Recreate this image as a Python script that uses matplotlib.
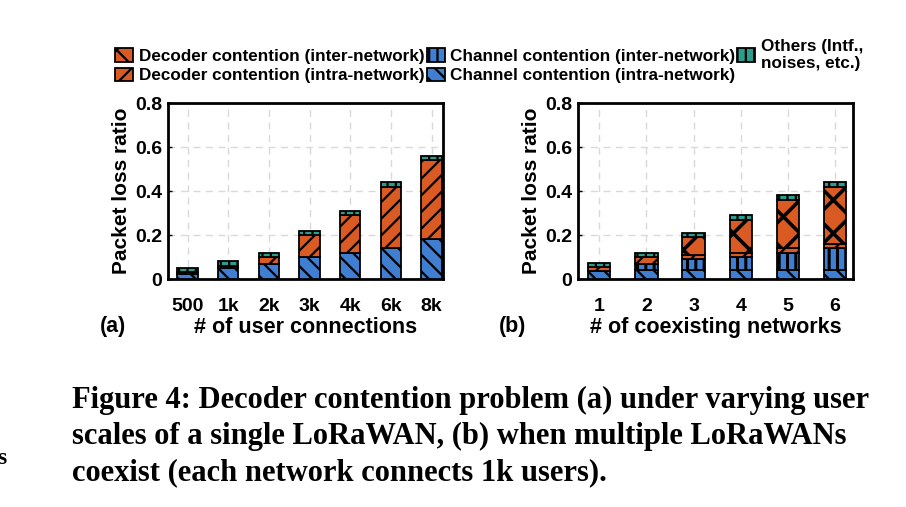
import numpy as np
import matplotlib
matplotlib.use('Agg')
import matplotlib.pyplot as plt
from matplotlib.patches import Patch

plt.rcParams['font.family'] = ['Liberation Sans', 'DejaVu Sans']
plt.rcParams['hatch.linewidth'] = 1.6

# ---- data (a): single LoRaWAN, varying user scale ----
users = ['500', '1k', '2k', '3k', '4k', '6k', '8k']
a_chan_intra = [0.025, 0.05, 0.07, 0.10, 0.12, 0.14, 0.18]
a_dec_intra = [0.005, 0.01, 0.03, 0.10, 0.17, 0.28, 0.36]
a_others = [0.02, 0.02, 0.02, 0.02, 0.02, 0.02, 0.02]

# ---- data (b): multiple coexisting LoRaWANs ----
networks = ['1', '2', '3', '4', '5', '6']
b_chan_intra = [0.035, 0.04, 0.04, 0.04, 0.04, 0.04]
b_chan_inter = [0.0, 0.03, 0.05, 0.06, 0.08, 0.10]
b_dec_intra = [0.02, 0.03, 0.02, 0.02, 0.02, 0.02]
b_dec_inter = [0.0, 0.0, 0.08, 0.15, 0.22, 0.26]
b_others = [0.02, 0.02, 0.02, 0.02, 0.02, 0.02]

blue = '#3f7ed0'
orange = '#da5a23'
teal = '#2a9d8c'

styles = {
    'dec_inter': dict(color=orange, hatch='x', hlw=2.6),
    'dec_intra': dict(color=orange, hatch='//', hlw=1.6),
    'chan_inter': dict(color=blue, hatch='||', hlw=2.2),
    'chan_intra': dict(color=blue, hatch='\\\\', hlw=1.6),
    'others': dict(color=teal, hatch='||', hlw=1.6),
}


def stack(ax, x, layers, width):
    bottom = np.zeros(len(x))
    for key, vals in layers:
        st = styles[key]
        with plt.rc_context({'hatch.linewidth': st['hlw']}):
            ax.bar(x, vals, width, bottom=bottom, color=st['color'], hatch=st['hatch'],
                   edgecolor='black', linewidth=1.3, zorder=3)
        bottom = bottom + np.array(vals)


def style_axes(ax, labels, xlabel):
    ax.set_ylim(0, 0.8)
    ax.set_yticks([0, 0.2, 0.4, 0.6, 0.8])
    ax.set_yticklabels(['0', '0.2', '0.4', '0.6', '0.8'], fontsize=14, fontweight='bold')
    ax.set_xticklabels(labels, fontsize=14, fontweight='bold')
    ax.set_ylabel('Packet loss ratio', fontsize=15, fontweight='bold', labelpad=3)
    ax.set_xlabel(xlabel, fontsize=15.5, fontweight='bold', labelpad=1)
    ax.grid(True, color='#d9d9d9', linestyle=(0, (5, 4)), linewidth=1.0, zorder=0)
    ax.tick_params(direction='in', length=3, width=1)
    ax.tick_params(axis='x', pad=14)
    ax.tick_params(axis='y', pad=4)
    for s in ax.spines.values():
        s.set_linewidth(2)
    ax.set_axisbelow(True)


fig = plt.figure(figsize=(9.06, 5.07), dpi=100)

ax1 = fig.add_axes([0.185, 0.4497, 0.3035, 0.347])
x1 = np.arange(len(users))
stack(ax1, x1, [('chan_intra', a_chan_intra), ('dec_intra', a_dec_intra),
                ('others', a_others)], 0.5)
ax1.set_xlim(-0.49, 6.27)
ax1.set_xticks(x1)
style_axes(ax1, users, '# of user connections')

ax2 = fig.add_axes([0.638, 0.4497, 0.3035, 0.347])
x2 = np.arange(1, len(networks) + 1)
stack(ax2, x2, [('chan_intra', b_chan_intra), ('chan_inter', b_chan_inter),
                ('dec_intra', b_dec_intra), ('dec_inter', b_dec_inter),
                ('others', b_others)], 0.47)
ax2.set_xlim(0.55, 6.38)
ax2.set_xticks(x2)
style_axes(ax2, networks, '# of coexisting networks')

fig.text(0.11, 0.357, '(a)', fontsize=15.5, fontweight='bold', va='center')
fig.text(0.551, 0.357, '(b)', fontsize=15.5, fontweight='bold', va='center')

# legend
labels = ['Decoder contention (inter-network)', 'Decoder contention (intra-network)',
          'Channel contention (inter-network)', 'Channel contention (intra-network)',
          'Others (Intf.,\nnoises, etc.)']
keys = ['dec_inter', 'dec_intra', 'chan_inter', 'chan_intra', 'others']
handles = []
for k in keys:
    with plt.rc_context({'hatch.linewidth': min(styles[k]['hlw'], 2.0)}):
        handles.append(Patch(facecolor=styles[k]['color'], hatch=styles[k]['hatch'],
                             edgecolor='black', linewidth=1.3))
leg = fig.legend(handles, labels, ncol=3, loc='upper left', bbox_to_anchor=(0.118, 0.94),
                 frameon=False, prop={'weight': 'bold', 'size': 12.3},
                 handlelength=1.05, handleheight=0.85, handletextpad=0.3,
                 columnspacing=0.15, labelspacing=0.2, borderpad=0)

# caption
cap = ['Figure 4: Decoder contention problem (a) under varying user',
       'scales of a single LoRaWAN, (b) when multiple LoRaWANs',
       'coexist (each network connects 1k users).']
for i, line in enumerate(cap):
    fig.text(0.079, 0.195 - i * 0.071, line, fontsize=22, fontweight='bold',
             family=['Liberation Serif', 'DejaVu Serif'], va='baseline')

fig.text(-0.003, 0.085, 's', fontsize=17, fontweight='bold',
         family=['Liberation Serif', 'DejaVu Serif'], va='baseline')

fig.savefig('out.png', dpi=100)
